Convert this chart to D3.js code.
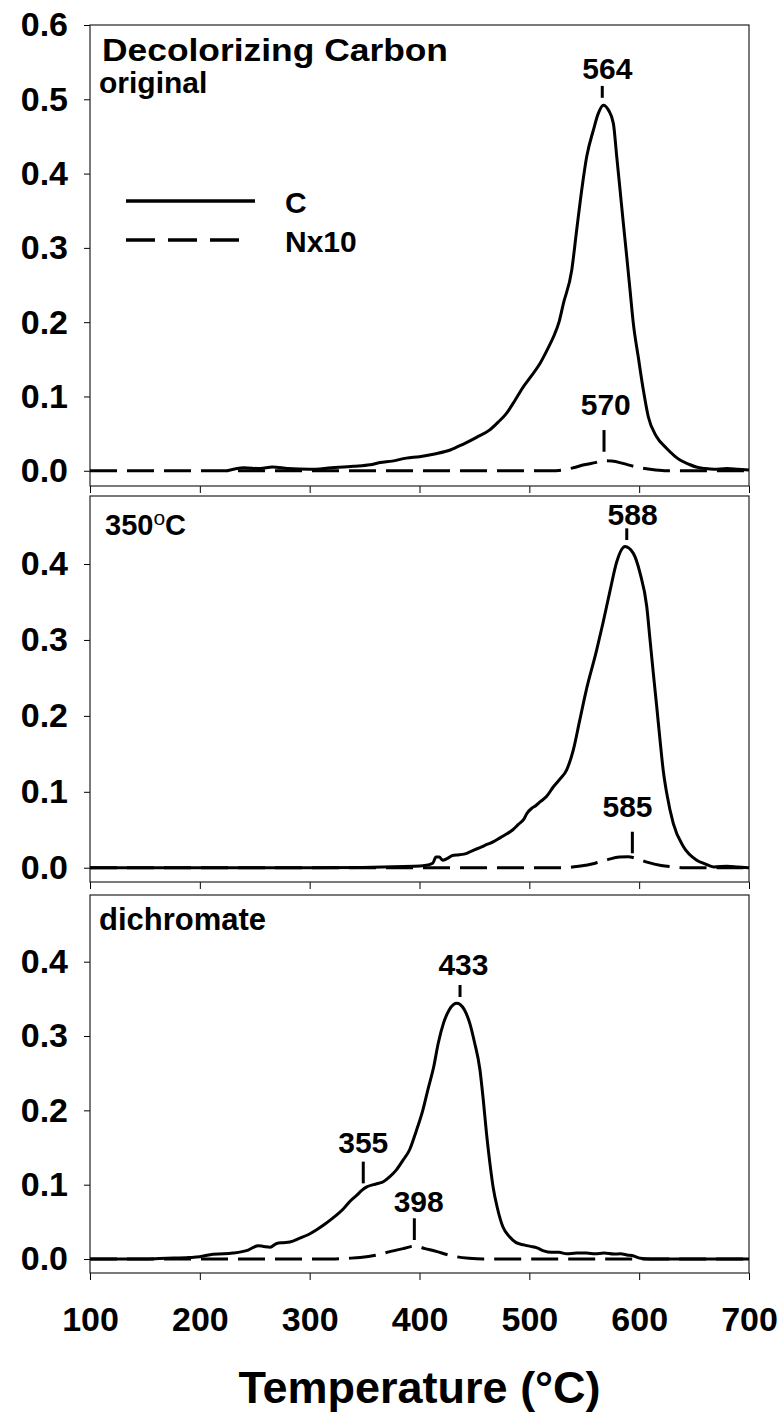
<!DOCTYPE html>
<html lang="en">
<head>
<meta charset="utf-8">
<script src="https://d3js.org/d3.v7.min.js"></script>
<style>
  body { margin: 0; background: #fff; }
  text { font-family: "Liberation Sans", Arial, sans-serif; font-weight: bold; fill: #000; }
</style>
</head>
<body>
<script>
    var width = 783, height = 1413;

    // temperature (°C), signal
    var cOriginal = [[225,0],[240,0.004],[255,0.003],[266,0.005],[280,0.003],[300,0.002],[320,0.004],[340,0.006],[355,0.008],[364,0.011],[375,0.013],[388,0.017],[400,0.019],[415,0.023],[428,0.028],[440,0.036],[452,0.045],[464,0.055],[472,0.066],[479,0.077],[487,0.095],[494.5,0.113],[502,0.128],[509.7,0.1445],[516,0.162],[521.9,0.18],[527,0.2],[531,0.225],[538.6,0.27],[543.1,0.324],[547.7,0.378],[552.2,0.4226],[558.3,0.4585],[562.8,0.481],[567.4,0.492],[572,0.4855],[576.5,0.4676],[579.6,0.4226],[582.6,0.378],[585.6,0.333],[588.7,0.288],[591.7,0.243],[594.7,0.198],[599.2,0.153],[603.8,0.1086],[608.3,0.0727],[615.9,0.0458],[625.1,0.030],[637.2,0.0144],[645,0.009],[652,0.005],[660,0.003],[668,0.002],[680,0.003],[690,0.002],[700,0.001]];
    var nOriginal = [[100,0],[520,0],[530,0.001],[540,0.004],[550,0.008],[560,0.011],[568,0.0135],[575,0.013],[585,0.01],[595,0.006],[605,0.003],[615,0.001],[625,0],[700,0]];

    var c350 = [[100,0],[300,0],[395,0.002],[405,0.003],[412,0.006],[415,0.014],[418,0.014],[421,0.01],[425,0.012],[430,0.016],[436,0.017],[443,0.019],[449,0.023],[456,0.027],[462,0.031],[467,0.034],[474,0.04],[480,0.045],[485,0.05],[490,0.057],[495,0.064],[498,0.072],[502,0.078],[506,0.082],[510,0.087],[515.8,0.094],[521.9,0.1067],[528,0.117],[534,0.129],[540,0.155],[546,0.195],[552,0.235],[561,0.285],[567,0.322],[573.5,0.365],[579.6,0.403],[587.1,0.423],[594.7,0.414],[600.8,0.388],[606.9,0.344],[609.9,0.3],[612.9,0.256],[616,0.212],[619,0.168],[622,0.127],[625.1,0.098],[631.1,0.058],[640.2,0.028],[652.4,0.01],[660,0.005],[668,0.001],[680,0.002],[690,0.001],[700,0]];
    var n350 = [[100,0],[530,0],[545,0.002],[560,0.006],[572,0.011],[582,0.014],[590,0.0145],[598,0.012],[608,0.007],[620,0.003],[632,0.001],[640,0],[700,0]];

    var cDichromate = [[100,0],[150,0],[170,0.001],[190,0.002],[200,0.003],[212,0.0065],[222,0.007],[230,0.008],[244,0.012],[253,0.018],[258,0.017],[264,0.016],[270,0.021],[276,0.022],[282,0.023],[291,0.028],[299,0.033],[306,0.039],[314,0.047],[321,0.055],[326,0.061],[331,0.068],[337,0.078],[343,0.086],[348,0.093],[352,0.097],[358,0.1],[363,0.102],[367,0.104],[373,0.111],[379,0.12],[385,0.133],[391,0.147],[397,0.172],[403,0.2],[408,0.23],[413,0.259],[417,0.29],[422,0.318],[427,0.335],[431,0.3425],[434,0.344],[437,0.3425],[441,0.335],[446,0.316],[450,0.292],[455,0.255],[458,0.215],[461,0.169],[464,0.13],[467,0.097],[471,0.068],[476,0.043],[482,0.03],[488,0.022],[495,0.019],[501,0.017],[507,0.015],[513,0.011],[520,0.009],[527,0.009],[534,0.007],[543,0.008],[552,0.008],[560,0.007],[568,0.008],[577,0.0067],[583,0.007],[589,0.0054],[595,0.004],[601,0.001],[610,0],[700,0]];
    var nDichromate = [[100,0],[320,0],[335,0.001],[346,0.002],[360,0.005],[373,0.01],[385,0.014],[396,0.0175],[405,0.014],[416,0.01],[425,0.006],[434,0.003],[445,0.001],[458,0],[700,0]];

    // peak labels: text, tick x, tick bottom / top, label x, label baseline (data units)
    var peaksOriginal = [
        {text:'564', x:566.4, y0:0.502, y1:0.518, tx:571, ty:0.527},
        {text:'570', x:568, y0:0.0256, y1:0.0548, tx:569.6, ty:0.075}
    ];
    var peaks350 = [
        {text:'588', x:588.7, y0:0.4316, y1:0.447, tx:594, ty:0.452},
        {text:'585', x:593.8, y0:0.019, y1:0.0474, tx:589.4, ty:0.0672}
    ];
    var peaksDichromate = [
        {text:'433', x:436.9, y0:0.3525, y1:0.3686, tx:440, ty:0.382},
        {text:'355', x:348.8, y0:0.1018, y1:0.131, tx:348.8, ty:0.1422},
        {text:'398', x:395.3, y0:0.0256, y1:0.0548, tx:399.3, ty:0.0636}
    ];

    var xTicks = [100, 200, 300, 400, 500, 600, 700];
    var yTicksTop = [0, 0.1, 0.2, 0.3, 0.4, 0.5, 0.6];
    var yTicks = [0, 0.1, 0.2, 0.3, 0.4];
    var legendLabels = ['C', 'Nx10'];

    var panels = [
        {top:25,  bottom:486,  domain:[-0.0205, 0.6],  ticks:yTicksTop, c:cOriginal,   n:nOriginal,   peaks:peaksOriginal},
        {top:496, bottom:882,  domain:[-0.0188, 0.4896], ticks:yTicks, c:c350,        n:n350,        peaks:peaks350},
        {top:895, bottom:1273, domain:[-0.0188, 0.4897], ticks:yTicks, c:cDichromate, n:nDichromate, peaks:peaksDichromate}
    ];

    var left = 90, right = 749;
    var x = d3.scaleLinear().domain([100, 700]).range([left, right]);

    var svg = d3.select('body').append('svg').attr('width', width).attr('height', height);

    var dash = '27,10';

    panels.forEach(function(p, i) {
        var y = d3.scaleLinear().domain(p.domain).range([p.bottom, p.top]);
        var g = svg.append('g');

        // y axis
        var ya = g.append('g').attr('transform', 'translate(' + left + ',0)')
            .call(d3.axisLeft(y).tickValues(p.ticks).tickFormat(d3.format('.1f')).tickSize(6).tickPadding(16));
        ya.select('.domain').remove();
        ya.selectAll('text').style('font-size', '34px').style('font-family', '"Liberation Sans", Arial, sans-serif').style('font-weight', 'bold');

        // x axis
        var xa = g.append('g').attr('transform', 'translate(0,' + p.bottom + ')')
            .call(d3.axisBottom(x).tickValues(xTicks).tickSize(7).tickPadding(27));
        xa.select('.domain').remove();
        if (i < 2) xa.selectAll('text').remove();
        xa.selectAll('text').style('font-size', '34px').style('font-family', '"Liberation Sans", Arial, sans-serif').style('font-weight', 'bold');

        // frame
        g.append('rect').attr('x', left).attr('y', p.top)
            .attr('width', right - left).attr('height', p.bottom - p.top)
            .attr('fill', 'none').attr('stroke', '#222').attr('stroke-width', 1.2);

        var line = d3.line()
            .x(function(d) { return x(d[0]); })
            .y(function(d) { return y(d[1]); })
            .curve(d3.curveMonotoneX);

        g.append('path').datum(p.n).attr('d', line)
            .attr('fill', 'none').attr('stroke', '#000').attr('stroke-width', 3)
            .attr('stroke-dasharray', dash);
        g.append('path').datum(p.c).attr('d', line)
            .attr('fill', 'none').attr('stroke', '#000').attr('stroke-width', 3)
            .attr('stroke-linejoin', 'round');

        // peak annotations
        p.peaks.forEach(function(k) {
            g.append('line').attr('x1', x(k.x)).attr('x2', x(k.x))
                .attr('y1', y(k.y0)).attr('y2', y(k.y1))
                .attr('stroke', '#000').attr('stroke-width', 3);
            g.append('text').attr('x', x(k.tx)).attr('y', y(k.ty))
                .attr('text-anchor', 'middle').style('font-size', '30px').text(k.text);
        });
    });

    // panel labels
    svg.append('text').attr('x', 102).attr('y', 61).style('font-size', '31px')
        .attr('textLength', 346).attr('lengthAdjust', 'spacingAndGlyphs')
        .text('Decolorizing Carbon');
    svg.append('text').attr('x', 99).attr('y', 93).style('font-size', '30px').text('original');

    var t350 = svg.append('text').attr('x', 105).attr('y', 535).style('font-size', '29px');
    t350.append('tspan').text('350');
    t350.append('tspan').attr('dy', -10).style('font-size', '21px').style('font-weight', 'normal').text('o');
    t350.append('tspan').attr('dy', 10).text('C');

    svg.append('text').attr('x', 99).attr('y', 930).style('font-size', '31px').text('dichromate');

    // legend
    var legendDash = [null, '29,13'];
    legendLabels.forEach(function(lab, i) {
        var ly = 201 + i * 39;
        svg.append('line').attr('x1', 126).attr('x2', i === 0 ? 255 : 240)
            .attr('y1', ly).attr('y2', ly)
            .attr('stroke', '#000').attr('stroke-width', 3.5)
            .attr('stroke-dasharray', legendDash[i]);
        svg.append('text').attr('x', 285).attr('y', ly + 12).style('font-size', '30px').text(lab);
    });

    // axis title
    svg.append('text').attr('x', (left + right) / 2).attr('y', 1403)
        .attr('text-anchor', 'middle').style('font-size', '45px')
        .text('Temperature (\u00B0C)');
</script>
</body>
</html>
